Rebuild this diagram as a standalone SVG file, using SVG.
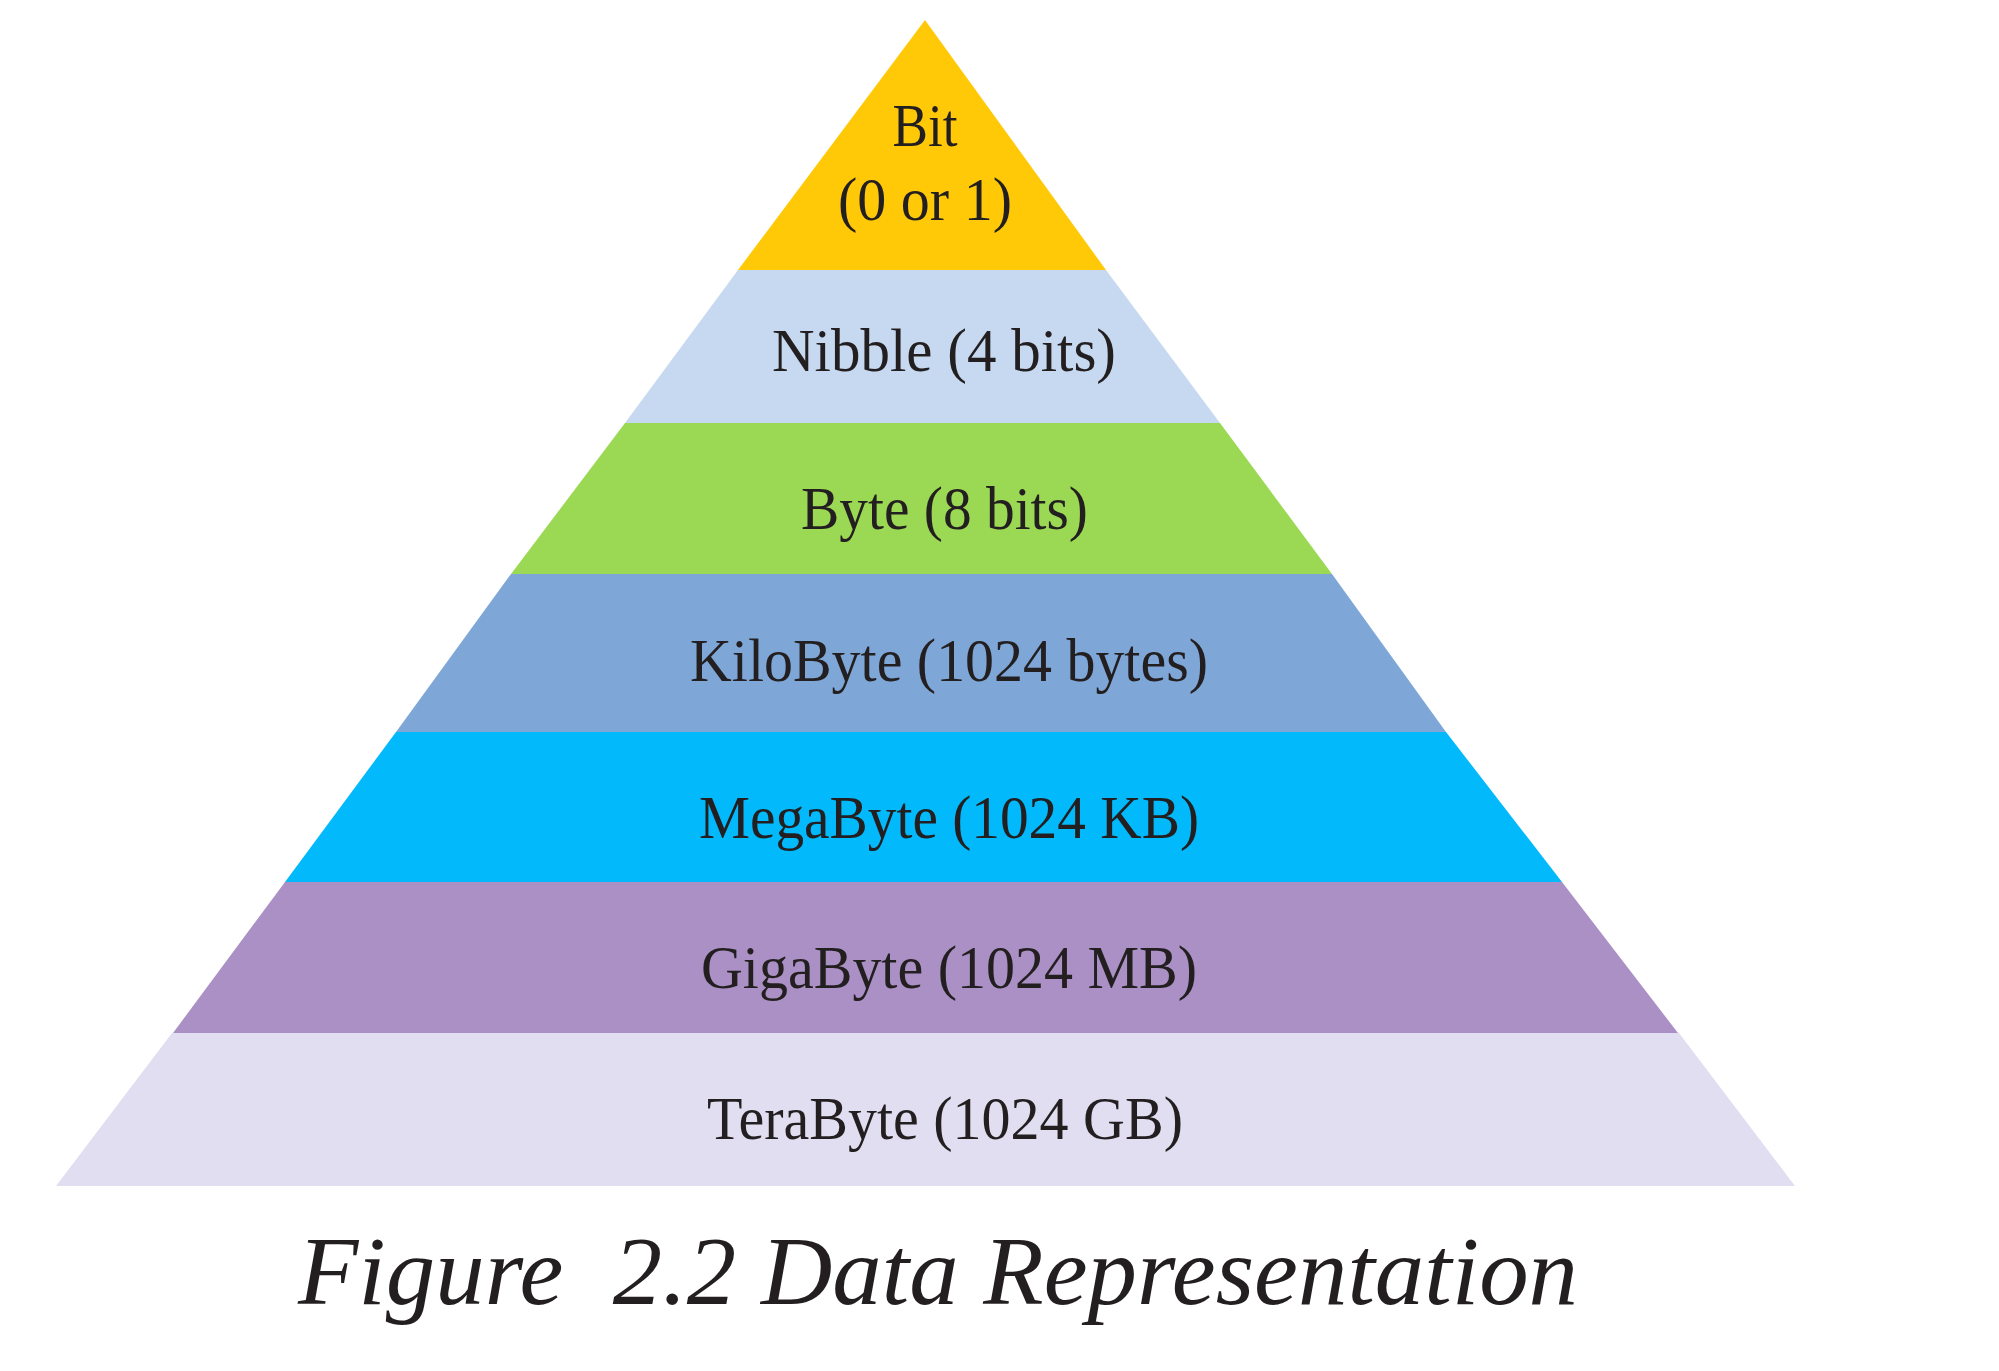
<svg xmlns="http://www.w3.org/2000/svg" width="1999" height="1371" viewBox="0 0 1999 1371">
<style>
.lbl{font-family:"Liberation Serif","Times New Roman",serif;font-size:62px;fill:#231f20;text-anchor:middle}
.cap{font-family:"Liberation Serif","Times New Roman",serif;font-style:italic;font-size:97px;fill:#231f20;white-space:pre}
</style>
<rect width="1999" height="1371" fill="#ffffff"/>
<g id="bit">
<polygon points="925,20 1106,270 738,270" fill="#ffc907"/>
<text class="lbl" x="925" y="146" textLength="65" lengthAdjust="spacingAndGlyphs">Bit</text>
<text class="lbl" x="925" y="220" textLength="174" lengthAdjust="spacingAndGlyphs">(0 or 1)</text>
</g>
<g id="nibble">
<polygon points="738,270 1106,270 1220,423 625,423" fill="#c6d9f1"/>
<text class="lbl" x="944" y="371" textLength="344" lengthAdjust="spacingAndGlyphs">Nibble (4 bits)</text>
</g>
<g id="byte">
<polygon points="625,423 1220,423 1332,574 511,574" fill="#9bd955"/>
<text class="lbl" x="944.5" y="529" textLength="287" lengthAdjust="spacingAndGlyphs">Byte (8 bits)</text>
</g>
<g id="kilobyte">
<polygon points="511,574 1332,574 1446,732 396,732" fill="#7ea7d8"/>
<text class="lbl" x="949" y="681" textLength="518" lengthAdjust="spacingAndGlyphs">KiloByte (1024 bytes)</text>
</g>
<g id="megabyte">
<polygon points="396,732 1446,732 1562,882 285,882" fill="#02b9fb"/>
<text class="lbl" x="949" y="837.5" textLength="500" lengthAdjust="spacingAndGlyphs">MegaByte (1024 KB)</text>
</g>
<g id="gigabyte">
<polygon points="285,882 1562,882 1678,1033 173,1033" fill="#aa90c4"/>
<text class="lbl" x="949" y="987.5" textLength="496" lengthAdjust="spacingAndGlyphs">GigaByte (1024 MB)</text>
</g>
<g id="terabyte">
<polygon points="172,1033 1679,1033 1795,1186 56,1186" fill="#e0def0"/>
<text class="lbl" x="945" y="1138.5" textLength="476" lengthAdjust="spacingAndGlyphs">TeraByte (1024 GB)</text>
</g>
<g id="connectors"/>
<g id="caption">
<text class="cap" x="298" y="1304" xml:space="preserve" textLength="1280" lengthAdjust="spacingAndGlyphs">Figure  2.2 Data Representation</text>
</g>
</svg>
